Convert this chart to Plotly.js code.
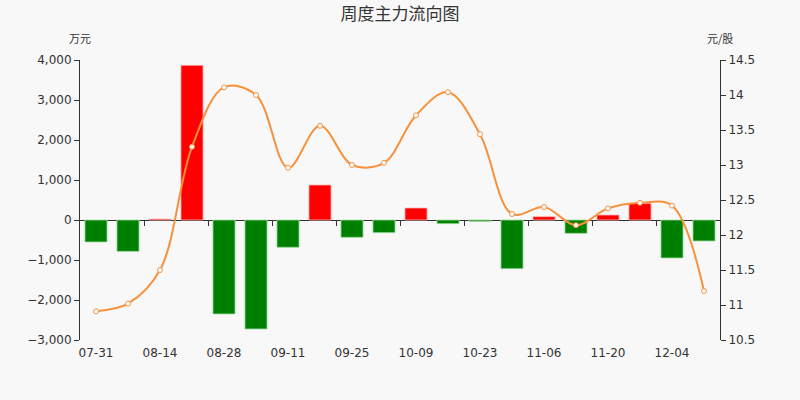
<!DOCTYPE html>
<html>
<head>
<meta charset="utf-8">
<script src="https://cdn.plot.ly/plotly-3.0.1.min.js"></script>
<style>
  html, body { margin: 0; padding: 0; background: #f8f8f8; }
  #chart { width: 800px; height: 400px; }
</style>
</head>
<body>
<div id="chart"></div>
<script>
// weekly dates
const weeks = ['07-31', '08-07', '08-14', '08-21', '08-28', '09-04', '09-11', '09-18', '09-25', '10-02',
               '10-09', '10-16', '10-23', '10-30', '11-06', '11-13', '11-20', '11-27', '12-04', '12-11'];
// main net inflow, 万元
const flowValues = [-550, -785, 25, 3867, -2350, -2725, -683, 875, -433, -317,
                    300, -92, -35, -1217, 83, -333, 125, 417, -950, -525];
// close price, 元/股
const priceValues = [10.91, 11.02, 11.5, 13.26, 14.11, 14.0, 12.96, 13.56, 13.0, 13.03,
                     13.71, 14.04, 13.44, 12.3, 12.4, 12.14, 12.38, 12.46, 12.42, 11.2];

const labelIdx = weeks.map((w, i) => i).filter(i => i % 2 === 0);
const boundaryIdx = labelIdx.slice(1).map(i => i - 0.5);
const xs = weeks.map((w, i) => i);

function plotChart() {
    const barTrace = {
        type: 'bar',
        x: xs,
        y: flowValues,
        width: 0.69,
        marker: {
            color: flowValues.map(v => v >= 0 ? '#ff0000' : '#008000'),
            line: { color: flowValues.map(v => v >= 0 ? 'rgba(255,180,180,0.8)' : 'rgba(160,220,160,0.8)'), width: 1 }
        },
        hoverinfo: 'skip',
        yaxis: 'y'
    };

    const lineTrace = {
        type: 'scatter',
        mode: 'lines+markers',
        x: xs,
        y: priceValues,
        line: { color: '#f7913c', width: 2, shape: 'spline', smoothing: 1 },
        marker: { symbol: 'circle', size: 5, color: '#ffffff', line: { color: '#f7913c', width: 1 } },
        hoverinfo: 'skip',
        yaxis: 'y2'
    };

    // only used to draw the boundary tick marks on the zero line
    const tickTrace = {
        type: 'scatter',
        mode: 'markers',
        x: [],
        y: [],
        xaxis: 'x2',
        yaxis: 'y',
        hoverinfo: 'skip'
    };

    const axisFont = { family: 'DejaVu Sans, sans-serif', size: 12, color: '#333' };

    const layout = {
        width: 800,
        height: 400,
        paper_bgcolor: '#f8f8f8',
        plot_bgcolor: '#f8f8f8',
        margin: { l: 80, r: 80, t: 60, b: 60 },
        showlegend: false,
        bargap: 0.31,
        title: {
            text: '周度主力流向图',
            font: { family: 'Noto Sans CJK SC, sans-serif', size: 17, color: '#333' },
            x: 0.5, xanchor: 'center', y: 0.965, yanchor: 'middle'
        },
        xaxis: {
            range: [-0.5, 19.5],
            tickvals: labelIdx,
            ticktext: labelIdx.map(i => weeks[i]),
            ticks: '',
            showgrid: false,
            showline: false,
            zeroline: false,
            tickfont: axisFont,
            ticklabelstandoff: 4
        },
        xaxis2: {
            range: [-0.5, 19.5],
            overlaying: 'x',
            anchor: 'free',
            position: 3 / 7,
            tickvals: boundaryIdx,
            ticks: 'outside',
            ticklen: 5,
            tickcolor: '#333',
            showticklabels: false,
            showgrid: false,
            showline: false,
            zeroline: false
        },
        yaxis: {
            range: [-3000, 4000],
            dtick: 1000,
            tickformat: ',d',
            ticks: 'outside',
            ticklen: 5,
            tickcolor: '#333',
            showline: true,
            linecolor: '#333',
            showgrid: false,
            zeroline: true,
            zerolinecolor: '#333',
            zerolinewidth: 1,
            tickfont: axisFont
        },
        yaxis2: {
            range: [10.5, 14.5],
            dtick: 0.5,
            overlaying: 'y',
            side: 'right',
            ticks: 'outside',
            ticklen: 5,
            tickcolor: '#333',
            showline: true,
            linecolor: '#333',
            showgrid: false,
            zeroline: false,
            tickfont: axisFont
        },
        annotations: [
            { text: '万元', xref: 'paper', yref: 'paper', x: 0, y: 1.08, xanchor: 'center', yanchor: 'middle',
              showarrow: false, font: { family: 'Noto Sans CJK SC, sans-serif', size: 11, color: '#333' } },
            { text: '元/股', xref: 'paper', yref: 'paper', x: 1, y: 1.08, xanchor: 'center', yanchor: 'middle',
              showarrow: false, font: { family: 'Noto Sans CJK SC, sans-serif', size: 11, color: '#333' } }
        ]
    };

    Plotly.newPlot('chart', [barTrace, tickTrace, lineTrace], layout, { displayModeBar: false, staticPlot: true });
}

plotChart();
</script>
</body>
</html>
